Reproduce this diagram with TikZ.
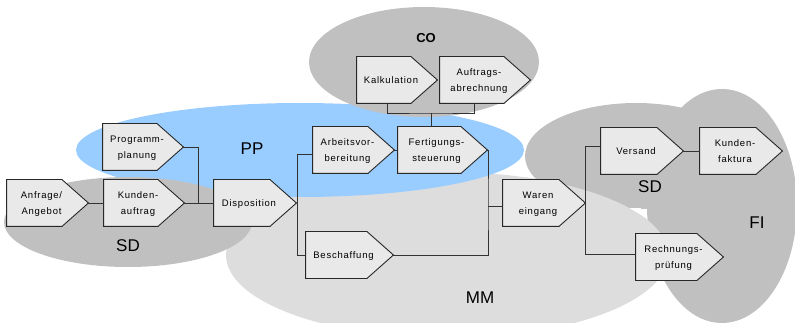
\documentclass[tikz,border=0pt]{standalone}
\usepackage{fontspec}
\setmainfont{Liberation Sans}
\newfontfamily\boxfont[LetterSpace=8]{Liberation Sans}
\newfontfamily\areafont{Liberation Sans}

\definecolor{ppblue}{RGB}{153,204,255}
\definecolor{areadark}{RGB}{192,192,192}
\definecolor{arealight}{RGB}{221,221,221}
\definecolor{boxfill}{RGB}{233,233,233}
\definecolor{boxline}{RGB}{40,40,40}
\definecolor{wire}{RGB}{50,50,50}

% process step: rectangle body with an arrow point on the east side
\makeatletter
\newdimen\procpointer
\procpointer=26.5pt
\pgfdeclareshape{procarrow}{
  \inheritsavedanchors[from=rectangle]
  \inheritanchorborder[from=rectangle]
  \inheritanchor[from=rectangle]{center}
  \inheritanchor[from=rectangle]{north}
  \inheritanchor[from=rectangle]{south}
  \inheritanchor[from=rectangle]{east}
  \inheritanchor[from=rectangle]{west}
  \inheritanchor[from=rectangle]{north east}
  \inheritanchor[from=rectangle]{north west}
  \inheritanchor[from=rectangle]{south east}
  \inheritanchor[from=rectangle]{south west}
  \inheritanchor[from=rectangle]{mid}
  \inheritanchor[from=rectangle]{base}
  \backgroundpath{
    \southwest \pgf@xa=\pgf@x \pgf@ya=\pgf@y
    \northeast \pgf@xb=\pgf@x \pgf@yb=\pgf@y
    \pgf@xc=\pgf@xb \advance\pgf@xc by -\procpointer
    \pgf@yc=.5\pgf@ya \advance\pgf@yc by .5\pgf@yb
    \pgfpathmoveto{\pgfqpoint{\pgf@xa}{\pgf@ya}}
    \pgfpathlineto{\pgfqpoint{\pgf@xa}{\pgf@yb}}
    \pgfpathlineto{\pgfqpoint{\pgf@xc}{\pgf@yb}}
    \pgfpathlineto{\pgfqpoint{\pgf@xb}{\pgf@yc}}
    \pgfpathlineto{\pgfqpoint{\pgf@xc}{\pgf@ya}}
    \pgfpathclose
  }
}
\makeatother

% label of a step, set a little left of the shape's centre
\newcommand{\steptext}[1]{{\setlength{\tabcolsep}{0pt}\begin{tabular}{c}#1\end{tabular}}\hspace*{12pt}}

\tikzset{
  proc/.style={procarrow, draw=boxline, fill=boxfill, line width=0.9pt,
    minimum height=46pt, inner sep=0pt,
    font=\boxfont\fontsize{9.5}{16.5}\selectfont},
  area/.style={font=\areafont\fontsize{17}{20}\selectfont, inner sep=0pt},
  wire/.style={draw=wire, line width=0.9pt}
}

\begin{document}
\begin{tikzpicture}[x=1pt, y=-1pt]
\useasboundingbox (0,0) rectangle (795,323);
\clip (0,0) rectangle (795,323);

% application areas
\fill[arealight] (447,255) ellipse [x radius=221pt, y radius=83pt];
\fill[ppblue] (300,150) ellipse [x radius=224pt, y radius=47pt];
\fill[areadark] (424,62) ellipse [x radius=115pt, y radius=55pt];
\fill[areadark] (128,222) ellipse [x radius=124pt, y radius=45pt];
\fill[areadark] (636,156) ellipse [x radius=111pt, y radius=53pt];
\fill[areadark] (722,206) ellipse [x radius=75pt, y radius=117pt];
\fill[white] (600,208) rectangle (641,240);
% MM lies over the SD/FI areas on its right-hand side
\begin{scope}
  \clip (524,150) rectangle (795,323);
  \fill[arealight] (447,255) ellipse [x radius=221pt, y radius=83pt];
\end{scope}

\node[area] (lblpp) at (252,148.5) {PP};
\node[area] (lblsd1) at (128,246) {SD};
\node[area, font=\areafont\bfseries\fontsize{13}{15}\selectfont] (lblco) at (426,38) {CO};
\node[area] (lblsd2) at (650,187) {SD};
\node[area] (lblfi) at (757,222.5) {FI};
\node[area] (lblmm) at (480,297.5) {MM};

% process steps
\node[proc, minimum width=81pt] (anf) at (47.5,203) {\steptext{Anfrage/\\Angebot}};
\node[proc, minimum width=80pt] (kau) at (144,203) {\steptext{Kunden-\\auftrag}};
\node[proc, minimum width=80pt] (prg) at (143,147) {\steptext{Programm-\\planung}};
\node[proc, minimum width=82pt] (dis) at (255,203) {\steptext{Disposition}};
\node[proc, minimum width=81pt] (arb) at (353.5,150) {\steptext{Arbeitsvor-\\bereitung}};
\node[proc, minimum width=89pt] (fer) at (442.5,150) {\steptext{Fertigungs-\\steuerung}};
\node[proc, minimum width=80pt] (kal) at (397,80) {\steptext{Kalkulation}};
\node[proc, minimum width=90pt] (auf) at (485,80) {\steptext{Auftrags-\\abrechnung}};
\node[proc, minimum width=87pt] (bes) at (349.5,255) {\steptext{Beschaffung}};
\node[proc, minimum width=82pt] (war) at (544,203) {\steptext{Waren\\eingang}};
\node[proc, minimum width=82pt] (ver) at (642,151) {\steptext{Versand}};
\node[proc, minimum width=82pt] (kfa) at (741,151) {\steptext{Kunden-\\faktura}};
\node[proc, minimum width=87pt] (rec) at (679.5,257) {\steptext{Rechnungs-\\prüfung}};

% junction points of the flow lines
\coordinate (sdjoin) at (198,203);
\coordinate (cobus) at (431,113);
\coordinate (mmbus) at (488,206);

% flow lines
\draw[wire] (anf.east) -- (kau.west);
\draw[wire] (kau.east) -- (dis.west);
\draw[wire] (prg.east) -| (sdjoin);
\draw[wire] ([yshift=-4pt]arb.west) -| ([xshift=1pt]dis.east) |- (bes.west);
\draw[wire] (arb.east) -- (fer.west);
\draw[wire] ([xshift=-10pt]kal.south) |- (cobus) -| ([xshift=-11pt]auf.south);
\draw[wire] (cobus) -- (cobus |- fer.north);
\draw[wire] (fer.east) -| (mmbus) |- (bes.east);
\draw[wire] (mmbus) -- (mmbus -| war.west);
\draw[wire] ([yshift=5pt]ver.west) -| (war.east) |- ([yshift=3pt]rec.west);
\draw[wire] (ver.east) -- (kfa.west);
\end{tikzpicture}
\end{document}
